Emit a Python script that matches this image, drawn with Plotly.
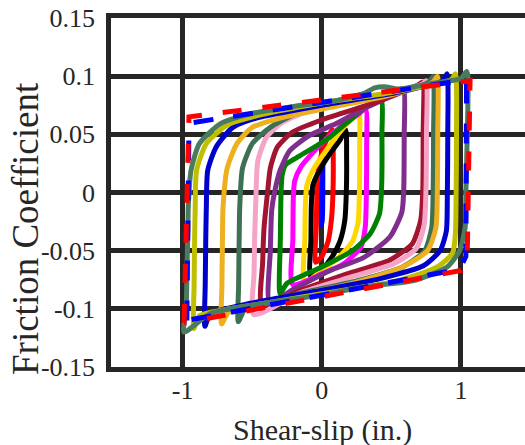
import plotly.graph_objects as go

# ---------------- data ----------------
x_ticks = [-1, 0, 1]
x_tick_labels = ["-1", "0", "1"]
y_ticks = [0.15, 0.1, 0.05, 0, -0.05, -0.1, -0.15]
y_tick_labels = ["0.15", "0.1", "0.05", "0", "-0.05", "-0.1", "-0.15"]

# hysteresis loops (shear-slip in., friction coefficient), smallest to largest
x_blue_s = [-0.005, -0.004, -0.002, 0.002, 0.006, 0.007, 0.006, 0.002, -0.005]
y_blue_s = [-0.028, 0.0, 0.024, 0.032, 0.034, 0.01, -0.014, -0.025, -0.028]

x_red = [-0.045, -0.04, -0.035, -0.025, 0.0, 0.04, 0.075, 0.082, 0.08, 0.07, 0.045, 0.0, -0.045]
y_red = [-0.06, -0.03, 0.0, 0.02, 0.034, 0.047, 0.054, 0.03, 0.0, -0.022, -0.042, -0.055, -0.06]

x_black = [-0.08, -0.078, -0.075, -0.065, -0.03, 0.05, 0.13, 0.172, 0.178, 0.176, 0.165, 0.13, 0.07, 0.0, -0.08]
y_black = [-0.072, -0.04, -0.01, 0.006, 0.016, 0.032, 0.045, 0.054, 0.03, 0.0, -0.024, -0.042, -0.056, -0.066, -0.072]

x_gold = [-0.125, -0.122, -0.118, -0.108, -0.07, 0.03, 0.15, 0.24, 0.268, 0.272, 0.27, 0.26, 0.22, 0.12, 0.0, -0.125]
y_gold = [-0.077, -0.04, -0.01, 0.006, 0.018, 0.036, 0.055, 0.066, 0.07, 0.04, 0.0, -0.026, -0.042, -0.056, -0.067, -0.077]

x_magenta = [-0.21, -0.208, -0.205, -0.195, -0.15, -0.02, 0.14, 0.27, 0.315, 0.322, 0.32, 0.312, 0.28, 0.16, 0.0, -0.21]
y_magenta = [-0.079, -0.04, -0.005, 0.01, 0.022, 0.04, 0.057, 0.068, 0.072, 0.04, 0.0, -0.03, -0.047, -0.061, -0.07, -0.079]

x_green = [-0.30, -0.298, -0.293, -0.285, -0.26, -0.18, 0.04, 0.2, 0.34, 0.425, 0.432, 0.428, 0.415, 0.35, 0.22, 0.0, -0.25, -0.30]
y_green = [-0.087, -0.04, 0.0, 0.015, 0.024, 0.03, 0.046, 0.062, 0.076, 0.08, 0.05, 0.0, -0.018, -0.035, -0.05, -0.064, -0.078, -0.087]

x_purple = [-0.375, -0.37, -0.36, -0.34, -0.3, -0.23, -0.09, 0.1, 0.3, 0.5, 0.57, 0.59, 0.592, 0.588, 0.575, 0.49, 0.3, 0.06, -0.2, -0.375]
y_purple = [-0.094, -0.05, -0.015, 0.0, 0.019, 0.036, 0.049, 0.059, 0.072, 0.083, 0.089, 0.088, 0.05, 0.0, -0.017, -0.038, -0.056, -0.067, -0.083, -0.094]

x_crimson = [-0.43, -0.425, -0.415, -0.39, -0.37, -0.32, -0.21, -0.01, 0.3, 0.55, 0.7, 0.725, 0.728, 0.725, 0.71, 0.65, 0.49, 0.18, -0.15, -0.43]
y_crimson = [-0.097, -0.06, -0.03, 0.0, 0.021, 0.039, 0.052, 0.062, 0.074, 0.085, 0.093, 0.095, 0.05, 0.0, -0.024, -0.044, -0.058, -0.07, -0.084, -0.097]

x_pink = [-0.49, -0.487, -0.482, -0.475, -0.46, -0.4, -0.3, -0.14, 0.2, 0.5, 0.72, 0.75, 0.752, 0.748, 0.735, 0.68, 0.52, 0.2, -0.15, -0.49]
y_pink = [-0.105, -0.07, -0.035, -0.01, 0.027, 0.047, 0.059, 0.068, 0.078, 0.086, 0.093, 0.096, 0.05, 0.0, -0.028, -0.048, -0.061, -0.073, -0.086, -0.105]

x_dkgreen = [-0.60, -0.598, -0.594, -0.59, -0.57, -0.5, -0.37, -0.18, 0.2, 0.6, 0.77, 0.8, 0.803, 0.8, 0.79, 0.74, 0.58, 0.25, -0.2, -0.55, -0.60]
y_dkgreen = [-0.111, -0.08, -0.04, -0.013, 0.021, 0.042, 0.056, 0.068, 0.078, 0.087, 0.095, 0.1, 0.05, 0.0, -0.03, -0.05, -0.064, -0.076, -0.088, -0.1, -0.111]

x_orange = [-0.72, -0.718, -0.714, -0.71, -0.68, -0.61, -0.5, -0.3, 0.1, 0.5, 0.8, 0.83, 0.833, 0.83, 0.82, 0.76, 0.58, 0.25, -0.2, -0.67, -0.72]
y_orange = [-0.113, -0.08, -0.04, -0.013, 0.021, 0.042, 0.056, 0.064, 0.074, 0.084, 0.095, 0.1, 0.05, 0.0, -0.03, -0.05, -0.064, -0.077, -0.089, -0.103, -0.113]

x_blue = [-0.84, -0.838, -0.834, -0.83, -0.82, -0.76, -0.64, -0.47, 0.0, 0.5, 0.87, 0.9, 0.905, 0.902, 0.895, 0.85, 0.73, 0.42, 0.0, -0.5, -0.8, -0.84]
y_blue = [-0.115, -0.08, -0.04, -0.013, 0.019, 0.039, 0.056, 0.064, 0.075, 0.085, 0.096, 0.102, 0.05, 0.0, -0.033, -0.05, -0.063, -0.074, -0.084, -0.095, -0.104, -0.115]

x_olive = [-0.92, -0.918, -0.914, -0.91, -0.9, -0.83, -0.68, -0.47, 0.0, 0.5, 0.93, 0.96, 0.968, 0.965, 0.96, 0.94, 0.83, 0.54, 0.0, -0.5, -0.88, -0.92]
y_olive = [-0.117, -0.08, -0.04, -0.013, 0.019, 0.042, 0.058, 0.066, 0.077, 0.086, 0.097, 0.102, 0.05, 0.0, -0.035, -0.052, -0.064, -0.076, -0.087, -0.097, -0.106, -0.117]

x_outer = [-0.99, -0.975, -0.968, -0.962, -0.96, -0.94, -0.88, -0.73, -0.5, -0.2, 0.1, 0.3, 0.38, 0.45, 0.55, 0.8, 1.0, 1.04, 1.05, 1.045, 1.035, 1.03, 0.99, 0.9, 0.65, 0.3, 0.0, -0.4, -0.8, -0.99]
y_outer = [-0.12, -0.1, -0.06, -0.03, -0.013, 0.019, 0.042, 0.059, 0.068, 0.074, 0.079, 0.085, 0.09, 0.091, 0.089, 0.094, 0.098, 0.104, 0.1, 0.05, 0.0, -0.03, -0.05, -0.064, -0.076, -0.081, -0.088, -0.095, -0.104, -0.12]

# bounding envelopes (dashed)
x_env_blue = [-0.97, -0.955, -0.93, 1.04, 1.035, 0.99, -0.97]
y_env_blue = [-0.11, 0.055, 0.06, 0.097, -0.055, -0.066, -0.11]
x_env_red = [-0.99, -0.955, 1.065, 1.045, 1.0, -0.99]
y_env_red = [-0.112, 0.065, 0.096, -0.055, -0.067, -0.112]

loops = [
    (x_blue_s, y_blue_s, "#0000FF"),
    (x_red, y_red, "#FF0000"),
    (x_black, y_black, "#000000"),
    (x_gold, y_gold, "#FFD700"),
    (x_magenta, y_magenta, "#FF00FF"),
    (x_green, y_green, "#008000"),
    (x_purple, y_purple, "#7E2F8E"),
    (x_crimson, y_crimson, "#A2142F"),
    (x_pink, y_pink, "#F5A3C7"),
    (x_dkgreen, y_dkgreen, "#3E7054"),
    (x_orange, y_orange, "#EDB120"),
    (x_blue, y_blue, "#0000CD"),
    (x_olive, y_olive, "#BFBF00"),
    (x_outer, y_outer, "#4B7B5F"),
]

fig = go.Figure()
for xs, ys, c in loops:
    fig.add_trace(go.Scatter(x=xs, y=ys, mode="lines",
                             line=dict(color=c, width=5, shape="spline", smoothing=0.6),
                             hoverinfo="skip"))

fig.add_trace(go.Scatter(x=x_env_blue, y=y_env_blue, mode="lines",
                         line=dict(color="#0000FF", width=5, dash="20px,20px")))
fig.add_trace(go.Scatter(x=x_env_red, y=y_env_red, mode="lines",
                         line=dict(color="#FF0000", width=5, dash="19px,21px")))

AX = "#262626"
FONT = "Liberation Serif"

fig.update_layout(
    width=525, height=445,
    margin=dict(l=111, r=0, t=18, b=78),
    paper_bgcolor="white", plot_bgcolor="white",
    showlegend=False,
    font=dict(family=FONT, color=AX),
    xaxis=dict(range=[-1.515, 1.46], tickvals=x_ticks, ticktext=x_tick_labels,
               showgrid=True, gridcolor=AX, gridwidth=4.5, zeroline=False,
               showline=True, linecolor=AX, linewidth=4.5, mirror=True,
               ticks="", ticklabelstandoff=-4,
               tickfont=dict(size=26, family=FONT, color=AX)),
    yaxis=dict(range=[-0.15, 0.15], tickvals=y_ticks, ticktext=y_tick_labels,
               showgrid=True, gridcolor=AX, gridwidth=4.5, zeroline=False,
               showline=True, linecolor=AX, linewidth=4.5, mirror=False,
               ticks="", ticklabelstandoff=6,
               tickfont=dict(size=26, family=FONT, color=AX)),
    annotations=[
        dict(text="Friction Coefficient", xref="paper", yref="paper",
             x=-0.208, y=0.398, xanchor="center", yanchor="middle",
             textangle=-90, showarrow=False,
             font=dict(size=37, family=FONT, color=AX)),
        dict(text="Shear-slip (in.)", xref="paper", yref="paper",
             x=0.51, y=-0.18, xanchor="center", yanchor="middle",
             showarrow=False,
             font=dict(size=30, family=FONT, color=AX)),
    ],
)

fig.write_html("out.html")
